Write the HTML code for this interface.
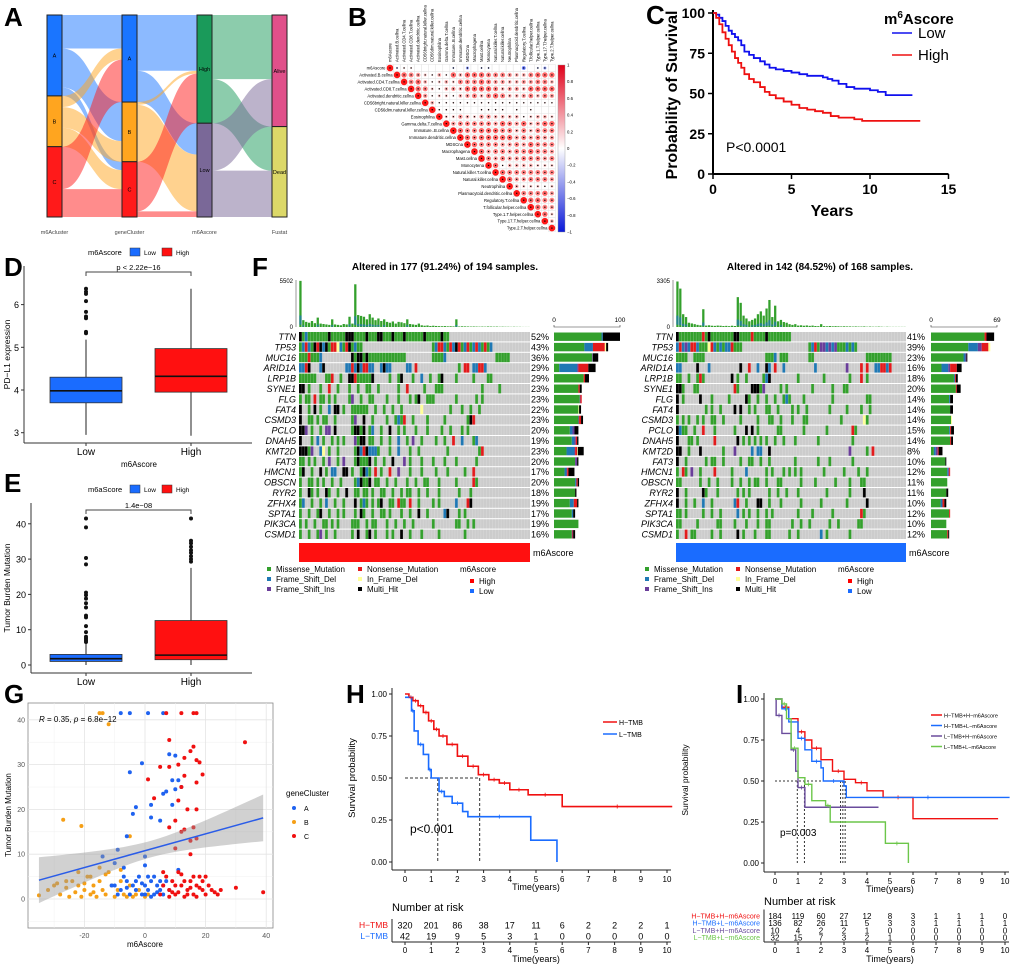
<!DOCTYPE html>
<html><head><meta charset="utf-8">
<style>
html,body{margin:0;padding:0;background:#fff;}
svg{display:block;font-family:"Liberation Sans",Arial,sans-serif;}
.pl{font-weight:bold;font-size:26px;}
</style></head>
<body>
<svg id="fig" width="1020" height="970" viewBox="0 0 1020 970" xmlns="http://www.w3.org/2000/svg">
<rect width="1020" height="970" fill="#fff"/>
<text class="pl" x="4" y="26">A</text>
<text class="pl" x="348" y="26">B</text>
<text class="pl" x="646" y="24">C</text>
<text class="pl" x="4" y="276">D</text>
<text class="pl" x="4" y="492">E</text>
<text class="pl" x="252" y="276">F</text>
<text class="pl" x="4" y="703">G</text>
<text class="pl" x="346" y="703">H</text>
<text class="pl" x="736" y="703">I</text>
<g id="gA"></g>
<g id="gB"></g>
<g id="gC"></g>
<g id="gD"></g>
<g id="gE"></g>
<g id="gF"></g>
<g id="gG"></g>
<g id="gH"></g>
<g id="gI"></g>
</svg>
<script>
// ================= DATA =================
const sankeyCols = ["m6Acluster","geneCluster","m6Ascore","Fustat"];
const sankeyNodes = [["A","B","C"],["A","B","C"],["High","Low"],["Alive","Dead"]];
const sankeyNodeColors = [["#1a75ff","#ffa51f","#ff1a1a"],["#1a75ff","#ffa51f","#ff1a1a"],["#1a9a5a","#7a6898"],["#e0508a","#dcd868"]];
const sankeyFlows1 = [[60,70,15],[20,37,34],[76,0,50]];
const sankeyFlows2 = [[100,56],[5,102],[89,10]];
const sankeyFlows3 = [[115,79],[85,83]];
const corrNames = ["m6Ascore","Activated.B.cellna","Activated.CD4.T.cellna","Activated.CD8.T.cellna","Activated.dendritic.cellna","CD56bright.natural.killer.cellna","CD56dim.natural.killer.cellna","Eosinophilna","Gamma.delta.T.cellna","Immature..B.cellna","Immature.dendritic.cellna","MDSCna","Macrophagena","Mast.cellna","Monocytena","Natural.killer.T.cellna","Natural.killer.cellna","Neutrophilna","Plasmacytoid.dendritic.cellna","Regulatory.T.cellna","T.follicular.helper.cellna","Type.1.T.helper.cellna","Type.17.T.helper.cellna","Type.2.T.helper.cellna"];
const corrRows = ["9a1100000a0b0aa0000c0ab0","96542131636665554335666521","9563123255565443344553571","965213436666534436666311","94122134535653345354321","93111111111111111111111","9111100111101010001111","922432443333123322111","94555554654634665311","9655666553535554111","965666664545443431","96555445465554311","9645545565543311","954544555453311","96133332222111","9655555553111","96445554311","93222121211","955564211","96655321","9654311","962311","9311","9"];
const corrTicks = ["1","0.8","0.6","0.4","0.2","0","−0.2","−0.4","−0.6","−0.8","−1"];
const cLowT = [0,0.2,0.4,0.6,0.8,1,1.2,1.4,1.6,1.8,2,2.3,2.6,3,3.3,3.6,4,4.5,5,5.5,6,6.5,7,7.3,7.6,8,8.5,9,9.5,10,10.5,11,11.5,12.7];
const cLowS = [100,99,97,95,92,89,87,85,83,80,76,74,72,70,68,66,65,64,63,62,61,61,60,59,58,56,54,53,53,52,51,49,49,49];
const cHighT = [0,0.2,0.4,0.6,0.8,1,1.2,1.4,1.6,1.8,2,2.3,2.6,3,3.3,3.6,4,4.5,5,5.5,6,6.5,7,7.5,8,9,9.5,13.2];
const cHighS = [100,97,93,88,84,80,76,72,69,66,62,59,57,54,51,49,47,45,43,41,40,39,38,36,35,34,33,33];
const cTicksX = [0,5,10,15];
const cTicksY = [0,25,50,75,100];
const dGroups = ["Low","High"];
const dStats = [[2.95,3.7,3.98,4.3,5.18],[2.93,3.95,4.32,4.97,6.37]];
const dOutLow = [5.33,5.36,5.68,5.72,5.83,6.08,6.25,6.3,6.37];
const dOutHigh = [];
const dTicks = [3,4,5,6];
const eStats = [[0,1,1.8,3,6],[0,1.5,2.8,12.6,27.5]];
const eOutLow = [6.5,7,7.5,8,9.3,11,13.5,14,16.3,17.5,18.8,19.8,20.5,28.5,30.3,39,41.5];
const eOutHigh = [29.3,30,30.8,31.8,32.5,33.5,34.5,35.2,41.5];
const eTicks = [0,10,20,30,40];
const genesL = ["TTN","TP53","MUC16","ARID1A","LRP1B","SYNE1","FLG","FAT4","CSMD3","PCLO","DNAH5","KMT2D","FAT3","HMCN1","OBSCN","RYR2","ZFHX4","SPTA1","PIK3CA","CSMD1"];
const genesR = ["TTN","TP53","MUC16","ARID1A","LRP1B","SYNE1","FLG","FAT4","CSMD3","PCLO","DNAH5","KMT2D","FAT3","HMCN1","OBSCN","RYR2","ZFHX4","SPTA1","PIK3CA","CSMD1"];
const pctL = [52,43,36,29,29,23,23,22,23,20,19,23,20,17,20,18,19,17,19,16];
const pctR = [41,39,23,16,18,20,14,14,14,15,14,8,10,12,11,11,10,12,10,12];
const matL = [
"kgbgggggggkgggggkkkggggkgggkkgggkgggkggggggkgggggkgg",
"gbrbgkrkbkgrrybgrkgbgg........................gbrrbgrbkrgbrgbrbgrgb",
"gggrgggb..........kgkkgkggggggggggggg.........ggggb.................ggggg",
"bbrk...bk.......bbrbkbrrbb..bkbb.....bb.r..............g.rr.bbrrb",
"gggggg...ggr..g..kkrgggggk.....g..gk...g..b..g..gk....g.....g....gg",
"kk.g...g..r..g...g..g..gg..g......g..r.....g...ggg.............g.....g",
"g.gg.r.gg.g.g....gp..g..gg....g...g...g.gk..ggg.......g......g.g",
"k..g.k.g..b.kk.g..gggggg..g..g..g..g......y.........g...g..g..g",
"k..gg.g.gg..g.....gp..k..g....g..gbgr..g....g.....g.......gkr..",
"kkp.g..g.pp.k.....gkkgk.gb..g..k..g.g...g...g....g..g...g.g",
"k...g.b.g..g.g.g...pgkk.gg..g..g..b..g.p..g....g..g..r..b...gb",
"kkkgp..by.g..g.....gkbrkbbbg...g..b...g..g.........g..........gr",
"gg.g.g..g.p..g.p...gkgggk.g..g..k...p.g...g...g...g...g......g",
"gk..g..k.g.bb..kk.g..gkbg.r.g..r..p...g...g....g...g.....g..r",
"g..gg.g.g..g..g....gbkggk.gg..g..g...g..g..gg...g.....g.....rg",
"g..kg.g..kg..g..k..gg.gg.g..gg..g..g.gg..g..g...g......g...g",
"gb..g..g.b..g..g...k.gbg.g.gk..gg.rgg.r..g....g.g.....b...rk",
"g..g..gk..g..g.g...g.kg..g..gg.g...g..g..k..g.....bk...g.g",
"g.g..g..gg.g.g....ggg..g.gg...g..g..g..g......g.......gg..g.g",
"g..g..gp.g..g.....g.k..gk.g...g.g..k..g...g.....g........g"];
const matR = [
"kggggggggrgkggggggggkkggggrggggkgggggggg",
"brbpbrrbgggyrbgbgbbrggg.......................gbrgppbpbpgggbgbg",
"gggg..gggg.....................gggb.ggg.......gg..................ggggggggg",
"bb.....k...b..........k..r..b..kb.r..b..........b..........p....r.r..bbrrbr",
"gg..g..grg.........k.g..g.....gbk.........g........g........g...r.g",
"kkg...gg............rg....kkkgp.....g.g........g......g...gg",
"k.g.....k...g.....g.....kg..g..g..g..gbg....g.........g...........gg",
"k.........g.g..g....k.k..g.g...gg..g....g.g..g.......g.....g....g..g",
"g.g.g..g.g..gg..g.....g.....g...gg..g...g...gg...........g.......yg",
"kbgg..g..r...g......g...k.k.g......gg.......g.......g........rg",
"k...gg.g.....r.......k.g.g.g.g.g..g..g...g.......g...........g",
"kk..g...k.......g...p.....b.bb..k...........................p.....g.r",
"k..g......g.gg..g.....g..gg..g..g........g.......g...g.......g",
"g.rg.p..g....r.....g....b......g.g...g.g.g.g.......g......g....g..g",
"gg......g..g..g....g..g..g.gg..g...gg......g....g......g....g...gg",
"k..g.....kg...g......g.g.g......g..g..g...g.........g.......g....k",
"k..g..g..b..g.......br..g...kk..g...g......g......g........g......k",
"gg.g.....g..g..g.....b.g.g..g..g.g........g....g......g.........rg",
"gg.....g......gg....g...g...g..gg.......g..g..g......g..g......gg",
"g..r.gg.....g..g.....k.g...g...gg......g..g.......b.g.......g"];
const tmbL = [5400,800,600,500,700,450,1100,400,350,300,250,900,300,250,200,350,300,1200,400,5000,1400,1300,1200,900,1500,1100,800,1000,700,900,600,500,650,400,600,550,450,900,350,300,250,400,200,150,180,120,150,120,100,90,110,80,90,70,900,60,80,70,60,50,60,50,40,50,40,60,50,40,50,30,40,30,30,20,30,20,20,10,10,10];
const tmbR = [3200,2700,900,700,300,250,200,150,120,1250,100,120,90,80,100,90,70,80,60,90,70,2100,1700,800,600,400,500,600,900,1100,800,1300,1900,700,1500,400,500,350,300,200,150,200,100,120,90,110,80,100,70,60,200,60,50,70,50,60,50,40,50,40,40,30,40,30,30,40,20,30,20,20,30,20,10,20,10,10,10,10,10,10];
const barsL = [[72,2,0,0,0,26],[46,13,0,18,2,3],[58,0,1,0,0,8],[8,27,2,15,0,11],[45,0,0,2,0,6],[37,0,0,2,0,3],[39,0,1,2,0,0],[37,0,0,0,1,3],[37,0,1,3,0,3],[24,4,3,0,0,6],[27,4,2,2,0,2],[19,12,1,3,1,9],[32,0,3,0,0,2],[16,3,1,2,0,9],[32,2,0,2,0,2],[32,0,0,0,0,2],[24,6,0,5,0,2],[27,2,0,0,0,3],[37,0,0,0,0,0],[27,0,1,1,0,3]];
const barsR = [[56,0,0,2,0,8],[39,10,4,7,2,0],[34,2,1,0,0,1],[11,7,2,7,0,5],[24,1,0,1,0,2],[26,0,0,1,0,4],[19,1,0,0,0,3],[20,0,0,0,0,3],[21,0,0,0,1,0],[19,1,0,1,0,3],[20,0,0,1,0,2],[3,2,2,1,0,4],[15,0,0,0,0,1],[17,1,1,1,0,0],[17,0,0,0,0,0],[16,0,0,0,0,2],[10,2,0,2,0,2],[19,0,0,1,0,0],[16,0,0,0,0,0],[17,0,0,1,0,1]];
const gAx = [-8,-5,1,6,-5,-1,8,10,11,12,9,10,7,6,2,-3,-4,2,5,9,-6,-9,-14,-10,-7,0,0,11,-10,-8,-6,-5,-4,-3,-2,-1,0,1,2,3,4,5,6,7,-7,-9,3,0,-3,5,8,2,-6,-1,4,1,-11,6];
const gAy = [41.5,41.5,41.5,41.5,28.3,30.3,32.3,32,26.5,25,26.5,24.5,24,23.5,21,20.5,19,18.2,17.5,21,14,11,9.5,8,7,9.5,7.5,6.5,3,2,4,1,3,2,5,1,3,2,4,1,3,2,1,4,5,1,5,1,4,4,2,0.5,2.5,3.5,1.5,5,3,3];
const gBx = [-15,-14,-12,-27,-21,-5,-35,-32,-30,-28,-26,-25,-24,-23,-22,-21,-20,-19,-18,-17,-16,-15,-14,-13,-12,-11,-10,-9,-8,-7,-6,-5,-4,-3,-2,0,1,-18,-22,-26,-15,-13,-8,-20,-29,-17];
const gBy = [41.5,41.5,39,17.7,16.3,14,0.8,2,3,1,2.5,0.5,4,1.5,3,0.5,2,5,1,3,0.5,4,2,1,6,3,0.5,2,4,1,0.5,3,0.5,1,2,0.5,1,5,6,4,7,5.5,6.5,3.5,3.5,1.5];
const gCx = [7,12,16,17,33,8,16,15,13,17,18,8,5,11,19,1,13,17,12,3,11,14,17,10,13,8,16,12,15,17,10,15,30,39,5,6,7,8,9,10,11,12,13,14,15,16,17,18,19,20,21,22,23,24,25,10,12,14,16,18,8,11,13,15,17,6,9,19,20];
const gCy = [41.5,41.5,41.5,41.5,35,35.5,34,33,31.5,31,30.5,29.5,29.5,30,27.8,26.7,27.5,26,25,22.5,22,20,20,17.5,15.5,16,16,15,13,13.5,11.3,10,2.5,1.5,1,3,5,2,4,1,6,3,0.5,2,4,1,3,5,2,1,3,2,1.5,1,2,3,5.5,1,5,2.5,0.5,1.5,4,2.5,0.5,6,1.5,4,5];
const gTicksX = [-20,0,20,40];
const gTicksY = [0,10,20,30,40];
const hHT = [0,0.15,0.3,0.5,0.7,0.9,1.1,1.3,1.6,2,2.4,2.8,3.2,3.6,4,4.7,6,10.2];
const hHS = [1,0.98,0.96,0.93,0.89,0.84,0.79,0.75,0.70,0.63,0.57,0.52,0.49,0.47,0.43,0.40,0.33,0.33];
const hLT = [0,0.25,0.35,0.5,0.7,0.9,1,1.3,1.5,1.8,2.2,2.4,4.8,5.8];
const hLS = [0.98,0.90,0.78,0.70,0.64,0.55,0.50,0.42,0.39,0.35,0.30,0.27,0.13,0];
const hRiskH = [320,201,86,38,17,11,6,2,2,2,1];
const hRiskL = [42,19,9,5,3,1,0,0,0,0,0];
const kmTicksX = [0,1,2,3,4,5,6,7,8,9,10];
const kmTicksY = [0,0.25,0.5,0.75,1];
const iHHT = [0,0.3,0.6,1,1.3,1.6,2,2.5,3,3.5,4,4.7,6,9.7];
const iHHS = [1,0.95,0.88,0.80,0.75,0.70,0.63,0.56,0.51,0.49,0.44,0.40,0.27,0.27];
const iHLT = [0,0.3,0.6,1,1.3,1.6,2,2.1,3,3.1,10.2];
const iHLS = [1,0.94,0.86,0.76,0.69,0.62,0.58,0.50,0.47,0.40,0.40];
const iLHT = [0,0.05,0.3,0.7,0.9,1,1.3,4.5];
const iLHS = [1,0.9,0.79,0.69,0.56,0.46,0.34,0.34];
const iLLT = [0,0.3,0.5,0.7,1,1.3,1.6,2.2,2.4,4.8,5.8];
const iLLS = [1,0.97,0.88,0.70,0.52,0.48,0.38,0.35,0.25,0.12,0];
const iRiskHH = [184,119,60,27,12,8,3,1,1,1,0];
const iRiskHL = [136,82,26,11,5,3,3,1,1,1,1];
const iRiskLH = [10,4,2,2,1,0,0,0,0,0,0];
const iRiskLL = [32,15,7,3,2,1,0,0,0,0,0];

// ================= HELPERS =================
const NS = "http://www.w3.org/2000/svg";
function mk(tag, attrs, name, parent) {
  const el = document.createElementNS(NS, tag);
  for (const k in attrs) el.setAttribute(k, attrs[k]);
  
  
  parent.appendChild(el);
  return el;
}
function tx(str, x, y, size, name, parent, extra) {
  const a = {x: x, y: y, 'font-size': size};
  if (extra) for (const k in extra) a[k] = extra[k];
  const t = mk('text', a, name, parent);
  t.textContent = str;
  return t;
}
function stepPath(T, S, sx, sy) {
  let d = "M" + sx(T[0]) + "," + sy(S[0]);
  for (let i = 1; i < T.length; i++) d += "H" + sx(T[i]) + "V" + sy(S[i]);
  return d;
}
const MCOL = {g:"#33a02c", b:"#1f78b4", p:"#6a3d9a", r:"#e31a1c", y:"#ffff99", k:"#000000"};
const SEGCOL = ["#33a02c","#1f78b4","#6a3d9a","#e31a1c","#ffff99","#000000"];

// ================= A: SANKEY =================
(function(){
  const g = document.getElementById('gA');
  const colX = [47,122,197,272], bw = 15, top = 15, bot = 217;
  const total = 362, k = (bot - top) / total;
  const nodeY = [];
  const sizes = [[145,91,126],[156,107,99],[194,168],[200,162]];
  sizes.forEach((arr, c) => { let y = top; nodeY[c] = arr.map(v => { const r = [y, y + v * k]; y += v * k; return r; }); });
  function flows(F, c, colorsFrom) {
    const nS = F.length, nT = F[0].length;
    const outOff = nodeY[c].map(r => r[0]);
    const inOff = nodeY[c + 1].map(r => r[0]);
    for (let s = 0; s < nS; s++) for (let t = 0; t < nT; t++) {
      const v = F[s][t]; if (!v) continue;
      const h = v * k, x0 = colX[c] + bw, x1 = colX[c + 1], xm = (x0 + x1) / 2;
      const y0 = outOff[s], y1 = inOff[t];
      outOff[s] += h; inOff[t] += h;
      const d = `M${x0},${y0}C${xm},${y0} ${xm},${y1} ${x1},${y1}V${y1 + h}C${xm},${y1 + h} ${xm},${y0 + h} ${x0},${y0 + h}Z`;
      mk('path', {d: d, fill: colorsFrom[s], 'fill-opacity': 0.5}, 'sankey-flow', g);
    }
  }
  flows(sankeyFlows1, 0, sankeyNodeColors[0]);
  flows(sankeyFlows2, 1, sankeyNodeColors[1]);
  flows(sankeyFlows3, 2, sankeyNodeColors[2]);
  nodeY.forEach((arr, c) => arr.forEach((r, i) => {
    mk('rect', {x: colX[c], y: r[0], width: bw, height: r[1] - r[0], fill: sankeyNodeColors[c][i], stroke: "#222", 'stroke-width': 1}, 'sankey-node', g);
    tx(sankeyNodes[c][i], colX[c] + bw / 2, (r[0] + r[1]) / 2 + 2, 5.5, 'sankey-node-label', g, {'text-anchor': 'middle'});
  }));
  sankeyCols.forEach((n, c) => tx(n, colX[c] + bw / 2, 234, 5.5, 'sankey-axis-label', g, {'text-anchor': 'middle', fill: '#444'}));
})();

// ================= B: CORRPLOT =================
(function(){
  const g = document.getElementById('gB');
  const n = corrNames.length, x0 = 390, y0 = 68, dx = 7.04, dy = 6.96;
  function lev(ch){ if (ch >= '0' && ch <= '9') return +ch; return -(ch.charCodeAt(0) - 96); }
  for (let i = 0; i < n; i++) {
    tx(corrNames[i], x0 + i * dx - 4.5, y0 + i * dy + 1.6, 4.2, 'corr-row-label', g, {'text-anchor': 'end'});
    tx(corrNames[i], 0, 0, 4.2, 'corr-col-label', g, {transform: `translate(${x0 + i * dx + 1.5},62) rotate(-90)`});
    const row = corrRows[i];
    for (let j = i; j < n; j++) {
      const cx = x0 + j * dx, cy = y0 + i * dy;
      mk('rect', {x: cx - dx / 2, y: cy - dy / 2, width: dx, height: dy, fill: '#fff', stroke: '#e3e3e3', 'stroke-width': 0.5}, 'corr-cell', g);
      const ch = row[j - i] || '1';
      const L = lev(ch), a = Math.abs(L) / 9;
      if (L === 0) continue;
      const col = L > 0 ? `rgb(${255},${Math.round(255 - 230 * a)},${Math.round(255 - 230 * a)})` : `rgb(${Math.round(255 - 230 * a * 2)},${Math.round(255 - 200 * a * 2)},255)`;
      mk('circle', {cx: cx, cy: cy, r: Math.max(0.6, 3.3 * Math.sqrt(a)), fill: col}, 'corr-circle', g);
      mk('circle', {cx: cx, cy: cy, r: 0.7, fill: '#000'}, 'corr-sig-mark', g);
    }
  }
  const defs = mk('defs', {}, 'defs', g);
  const lg = mk('linearGradient', {id: 'cbar', x1: 0, y1: 0, x2: 0, y2: 1}, 'colorbar-gradient', defs);
  mk('stop', {offset: '0', 'stop-color': '#e0001a'}, 'stop', lg);
  mk('stop', {offset: '0.5', 'stop-color': '#ffffff'}, 'stop', lg);
  mk('stop', {offset: '1', 'stop-color': '#0a18d8'}, 'stop', lg);
  mk('rect', {x: 558, y: 65, width: 7, height: 167, fill: 'url(#cbar)', stroke: '#999', 'stroke-width': 0.4}, 'colorbar', g);
  corrTicks.forEach((t, i) => tx(t, 567, 65 + i * 16.7 + 1.5, 4.3, 'colorbar-tick', g));
})();

// ================= C: KM =================
(function(){
  const g = document.getElementById('gC');
  const sx = t => 713 + t * 15.7, sy = v => 174 - v * 1.61;
  mk('line', {x1: 713, y1: 10, x2: 713, y2: 174, stroke: '#000', 'stroke-width': 2}, 'y-axis', g);
  mk('line', {x1: 713, y1: 174, x2: sx(15), y2: 174, stroke: '#000', 'stroke-width': 2}, 'x-axis', g);
  cTicksY.forEach(v => { mk('line', {x1: 708, y1: sy(v), x2: 713, y2: sy(v), stroke: '#000', 'stroke-width': 1.5}, 'y-tick', g);
    tx(String(v), 705, sy(v) + 5, 14, 'y-tick-label', g, {'text-anchor': 'end', 'font-weight': 'bold'}); });
  cTicksX.forEach(v => { mk('line', {x1: sx(v), y1: 174, x2: sx(v), y2: 179, stroke: '#000', 'stroke-width': 1.5}, 'x-tick', g);
    tx(String(v), sx(v), 194, 14, 'x-tick-label', g, {'text-anchor': 'middle', 'font-weight': 'bold'}); });
  mk('path', {d: stepPath(cLowT, cLowS, sx, sy), fill: 'none', stroke: '#1010ee', 'stroke-width': 1.8}, 'survival-line-low', g);
  mk('path', {d: stepPath(cHighT, cHighS, sx, sy), fill: 'none', stroke: '#ee1010', 'stroke-width': 1.8}, 'survival-line-high', g);
  tx('Years', 832, 216, 16, 'x-axis-title', g, {'text-anchor': 'middle', 'font-weight': 'bold'});
  tx('Probability of Survival', 0, 0, 16, 'y-axis-title', g, {'text-anchor': 'middle', 'font-weight': 'bold', transform: 'translate(677,95) rotate(-90)'});
  const t = tx('', 884, 24, 15, 'legend-title', g, {'font-weight': 'bold'});
  t.innerHTML = 'm<tspan dy="-6" font-size="10">6</tspan><tspan dy="6">Ascore</tspan>';
  mk('line', {x1: 892, y1: 33, x2: 912, y2: 33, stroke: '#1010ee', 'stroke-width': 1.5}, 'legend-line-low', g);
  tx('Low', 918, 38, 15, 'legend-label-low', g);
  mk('line', {x1: 892, y1: 55, x2: 912, y2: 55, stroke: '#ee1010', 'stroke-width': 1.5}, 'legend-line-high', g);
  tx('High', 918, 60, 15, 'legend-label-high', g);
  tx('P<0.0001', 726, 152, 14, 'p-value', g);
})();

// ================= D / E: BOXPLOTS =================
function boxplot(gid, stats, outs, ticks, sy, ax, ay, xlab, ylab, legendTitle, bracketY, ptxt, topY, bottomLabels) {
  const g = document.getElementById(gid);
  const cx = [86, 191], hw = 36, cols = ["#1a6cff", "#ff1010"];
  mk('line', {x1: ax, y1: topY, x2: ax, y2: ay, stroke: '#333', 'stroke-width': 1}, 'y-axis', g);
  mk('line', {x1: ax, y1: ay, x2: 252, y2: ay, stroke: '#333', 'stroke-width': 1}, 'x-axis', g);
  ticks.forEach(v => { mk('line', {x1: ax - 3, y1: sy(v), x2: ax, y2: sy(v), stroke: '#333'}, 'y-tick', g);
    tx(String(v), ax - 5, sy(v) + 3.5, 9, 'y-tick-label', g, {'text-anchor': 'end'}); });
  stats.forEach((s, i) => {
    mk('line', {x1: cx[i], y1: sy(s[0]), x2: cx[i], y2: sy(s[4]), stroke: '#222', 'stroke-width': 1}, 'whisker', g);
    mk('rect', {x: cx[i] - hw, y: sy(s[3]), width: hw * 2, height: sy(s[1]) - sy(s[3]), fill: cols[i], stroke: '#333', 'stroke-width': 0.8}, 'box-' + dGroups[i].toLowerCase(), g);
    mk('line', {x1: cx[i] - hw, y1: sy(s[2]), x2: cx[i] + hw, y2: sy(s[2]), stroke: '#111', 'stroke-width': 1.6}, 'median-line', g);
    outs[i].forEach(v => mk('circle', {cx: cx[i], cy: sy(v), r: 2, fill: '#111'}, 'outlier-point', g));
    mk('line', {x1: cx[i], y1: ay, x2: cx[i], y2: ay + 3, stroke: '#333'}, 'x-tick', g);
    if (bottomLabels) tx(dGroups[i], cx[i], ay + 12, 10, 'x-tick-label', g, {'text-anchor': 'middle'});
  });
  mk('path', {d: `M${cx[0]},${bracketY + 4}V${bracketY}H${cx[1]}V${bracketY + 4}`, fill: 'none', stroke: '#444'}, 'significance-bracket', g);
  tx(ptxt, (cx[0] + cx[1]) / 2, bracketY - 2, 7.5, 'p-value', g, {'text-anchor': 'middle'});
  if (xlab) tx(xlab, 139, ay + 24, 8, 'x-axis-title', g, {'text-anchor': 'middle'});
  tx(ylab, 0, 0, 8.5, 'y-axis-title', g, {'text-anchor': 'middle', transform: `translate(10,${(topY + ay) / 2}) rotate(-90)`});
  const ly = topY - 14;
  tx(legendTitle, 88, ly + 3, 7.5, 'legend-title', g);
  mk('rect', {x: 130, y: ly - 4, width: 10, height: 8, fill: cols[0], stroke: '#333', 'stroke-width': 0.5}, 'legend-key-low', g);
  tx('Low', 144, ly + 3, 6.5, 'legend-label-low', g);
  mk('rect', {x: 162, y: ly - 4, width: 10, height: 8, fill: cols[1], stroke: '#333', 'stroke-width': 0.5}, 'legend-key-high', g);
  tx('High', 176, ly + 3, 6.5, 'legend-label-high', g);
}
boxplot('gD', dStats, [dOutLow, dOutHigh], dTicks, v => 390 - (v - 4) * 42.7, 24, 443, 'm6Ascore', 'PD−L1 expression', 'm6Ascore', 272, 'p < 2.22e−16', 266, true);
boxplot('gE', eStats, [eOutLow, eOutHigh], eTicks, v => 665 - v * 3.53, 31, 673, '', 'Tumor Burden Mutation', 'm6aScore', 510, '1.4e−08', 503, true);

// ================= F: ONCOPLOTS =================
function oncoplot(g, genes, pct, mat, tmb, bars, maxTmb, maxBar, mx0, mx1, barX0, title, titleX, annCol, lgX) {
  const ncol = 80, cw = (mx1 - mx0) / ncol, rowTop = 332, rh = 10.4, ch = 9.4;
  tx(title, titleX, 270, 10, 'oncoplot-title', g, {'text-anchor': 'middle', 'font-weight': 'bold'});
  const tb0 = 327, tbH = 47;
  mk('line', {x1: mx0 - 3, y1: tb0 - tbH, x2: mx0 - 3, y2: tb0, stroke: '#555', 'stroke-width': 0.6}, 'tmb-axis', g);
  tx(String(maxTmb), mx0 - 6, tb0 - tbH + 3, 6, 'tmb-axis-max', g, {'text-anchor': 'end'});
  tx('0', mx0 - 6, tb0 + 2, 6, 'tmb-axis-min', g, {'text-anchor': 'end'});
  tmb.forEach((v, i) => {
    const h = v / maxTmb * tbH;
    mk('rect', {x: mx0 + i * cw + 0.3, y: tb0 - h, width: cw - 0.6, height: h, fill: '#33a02c'}, 'tmb-bar', g);
    if (h > 6) mk('rect', {x: mx0 + i * cw + 0.3, y: tb0 - h * 0.25, width: cw - 0.6, height: h * 0.2, fill: '#1f78b4', 'fill-opacity': 0.7}, 'tmb-bar-segment', g);
  });
  genes.forEach((gn, r) => {
    const y = rowTop + r * rh;
    tx(gn, mx0 - 3, y + 8, 9, 'gene-label', g, {'text-anchor': 'end', 'font-style': 'italic'});
    tx(pct[r] + '%', mx1 + 1, y + 8, 9, 'gene-percent', g);
    mk('rect', {x: mx0, y: y, width: mx1 - mx0, height: ch, fill: '#cccccc'}, 'oncoplot-row-bg', g);
    const s = mat[r];
    for (let c = 0; c < ncol; c++) {
      const m = s[c];
      if (m && m !== '.') mk('rect', {x: mx0 + c * cw, y: y, width: cw + 0.05, height: ch, fill: MCOL[m]}, 'mutation-cell', g);
    }
    let x = barX0;
    bars[r].forEach((v, si) => { if (!v) return; const w = v / maxBar * 66;
      mk('rect', {x: x, y: y + 0.5, width: w, height: ch - 1, fill: SEGCOL[si]}, 'gene-freq-bar', g); x += w; });
  });
  for (let c = 1; c < ncol; c++) mk('line', {x1: mx0 + c * cw, y1: rowTop, x2: mx0 + c * cw, y2: rowTop + 20 * rh, stroke: '#ffffff', 'stroke-width': 0.15}, 'col-sep', g);
  mk('path', {d: `M${barX0},325V327H${barX0 + 66}V325`, fill: 'none', stroke: '#333', 'stroke-width': 0.6}, 'freq-axis', g);
  tx('0', barX0, 322, 6.5, 'freq-axis-min', g, {'text-anchor': 'middle'});
  tx(String(maxBar), barX0 + 66, 322, 6.5, 'freq-axis-max', g, {'text-anchor': 'middle'});
  mk('rect', {x: mx0, y: 543, width: mx1 - mx0, height: 19, fill: annCol}, 'm6ascore-annotation-bar', g);
  tx('m6Ascore', mx1 + 3, 556, 9, 'annotation-label', g);
  const items = [['Missense_Mutation', 'g', 0, 0], ['Frame_Shift_Del', 'b', 0, 1], ['Frame_Shift_Ins', 'p', 0, 2], ['Nonsense_Mutation', 'r', 1, 0], ['In_Frame_Del', 'y', 1, 1], ['Multi_Hit', 'k', 1, 2]];
  items.forEach(it => { const lx = lgX + it[2] * 91, ly = 572 + it[3] * 10;
    mk('rect', {x: lx, y: ly - 5, width: 4, height: 4, fill: MCOL[it[1]]}, 'legend-key', g);
    tx(it[0], lx + 9, ly, 8, 'legend-label', g); });
  tx('m6Ascore', lgX + 193, 572, 8, 'legend-title', g);
  mk('rect', {x: lgX + 203, y: 579, width: 4, height: 4, fill: '#ff0000'}, 'legend-key-high', g);
  tx('High', lgX + 212, 584, 8, 'legend-label-high', g);
  mk('rect', {x: lgX + 203, y: 589, width: 4, height: 4, fill: '#1a6cff'}, 'legend-key-low', g);
  tx('Low', lgX + 212, 594, 8, 'legend-label-low', g);
}
(function(){
  const g = document.getElementById('gF');
  const gl = mk('g', {}, 'oncoplot-high', g);
  oncoplot(gl, genesL, pctL, matL, tmbL, barsL, 5502, 100, 299, 530, 554, 'Altered in 177 (91.24%) of 194 samples.', 445, '#ff1010', 267);
  const gr = mk('g', {}, 'oncoplot-low', g);
  oncoplot(gr, genesR, pctR, matR, tmbR, barsR, 3305, 69, 676, 906, 931, 'Altered in 142 (84.52%) of 168 samples.', 820, '#1a6cff', 645);
})();

// ================= G: SCATTER =================
(function(){
  const g = document.getElementById('gG');
  const sx = v => 145 + v * 3.03, sy = v => 899 - v * 4.48;
  mk('rect', {x: 28, y: 703, width: 245, height: 225, fill: '#fff', stroke: '#888', 'stroke-width': 0.8}, 'plot-area', g);
  [-30,-10,10,30].forEach(v => mk('line', {x1: sx(v), y1: 703, x2: sx(v), y2: 928, stroke: '#f0f0f0', 'stroke-width': 0.5}, 'minor-grid-x', g));
  [-5,5,15,25,35].forEach(v => mk('line', {x1: 28, y1: sy(v), x2: 273, y2: sy(v), stroke: '#f0f0f0', 'stroke-width': 0.5}, 'minor-grid-y', g));
  gTicksX.forEach(v => { mk('line', {x1: sx(v), y1: 703, x2: sx(v), y2: 928, stroke: '#e4e4e4', 'stroke-width': 0.8}, 'grid-x', g);
    tx(String(v), sx(v), 938, 7, 'x-tick-label', g, {'text-anchor': 'middle', fill: '#555'}); });
  gTicksY.forEach(v => { mk('line', {x1: 28, y1: sy(v), x2: 273, y2: sy(v), stroke: '#e4e4e4', 'stroke-width': 0.8}, 'grid-y', g);
    tx(String(v), 25, sy(v) + 2.5, 7, 'y-tick-label', g, {'text-anchor': 'end', fill: '#555'}); });
  const X = gAx.concat(gBx, gCx), Y = gAy.concat(gBy, gCy), n = X.length;
  const mxv = X.reduce((a, b) => a + b) / n, myv = Y.reduce((a, b) => a + b) / n;
  let sxx = 0, sxy = 0; for (let i = 0; i < n; i++) { sxx += (X[i] - mxv) ** 2; sxy += (X[i] - mxv) * (Y[i] - myv); }
  const b1 = sxy / sxx, b0 = myv - b1 * mxv;
  let sse = 0; for (let i = 0; i < n; i++) sse += (Y[i] - b0 - b1 * X[i]) ** 2;
  const sig = Math.sqrt(sse / (n - 2));
  const xs = []; for (let v = -35; v <= 39; v += 2) xs.push(v);
  const se = v => 1.96 * sig * Math.sqrt(1 / n + (v - mxv) ** 2 / sxx);
  let d = xs.map((v, i) => (i ? 'L' : 'M') + sx(v) + ',' + sy(b0 + b1 * v + se(v))).join('');
  d += xs.slice().reverse().map(v => 'L' + sx(v) + ',' + sy(b0 + b1 * v - se(v))).join('') + 'Z';
  function pts(PX, PY, col, nm) { PX.forEach((v, i) => mk('circle', {cx: sx(v), cy: sy(PY[i]), r: 2, fill: col}, nm, g)); }
  pts(gBx, gBy, '#f59f16', 'point-cluster-b');
  pts(gAx, gAy, '#1f62f0', 'point-cluster-a');
  pts(gCx, gCy, '#f01010', 'point-cluster-c');
  mk('path', {d: d, fill: '#999', 'fill-opacity': 0.45}, 'confidence-band', g);
  mk('line', {x1: sx(-35), y1: sy(b0 + b1 * -35), x2: sx(39), y2: sy(b0 + b1 * 39), stroke: '#2a5ce8', 'stroke-width': 1.5}, 'regression-line', g);
  const rt = tx('', 39, 722, 8, 'correlation-label', g);
  rt.innerHTML = '<tspan font-style="italic">R</tspan> = 0.35, <tspan font-style="italic">p</tspan> = 6.8e−12';
  tx('m6Ascore', 145, 947, 8, 'x-axis-title', g, {'text-anchor': 'middle'});
  tx('Tumor Burden Mutation', 0, 0, 8, 'y-axis-title', g, {'text-anchor': 'middle', transform: 'translate(11,815) rotate(-90)'});
  tx('geneCluster', 286, 796, 8, 'legend-title', g);
  [['A', '#1f62f0'], ['B', '#f59f16'], ['C', '#f01010']].forEach((e, i) => {
    mk('circle', {cx: 294, cy: 808 + i * 14, r: 2, fill: e[1]}, 'legend-key', g);
    tx(e[0], 304, 811 + i * 14, 7, 'legend-label', g); });
})();

// ================= H & I =================
function kmAxes(g, ax, x0, x10, y1, y0, axisY) {
  const sx = t => x0 + t * (x10 - x0) / 10, sy = v => y0 - v * (y0 - y1);
  mk('line', {x1: ax, y1: y1 - 6, x2: ax, y2: axisY, stroke: '#222', 'stroke-width': 1}, 'y-axis', g);
  mk('line', {x1: ax, y1: axisY, x2: x10 + 4, y2: axisY, stroke: '#222', 'stroke-width': 1}, 'x-axis', g);
  kmTicksY.forEach(v => { mk('line', {x1: ax - 3, y1: sy(v), x2: ax, y2: sy(v), stroke: '#222'}, 'y-tick', g);
    tx(v.toFixed(2), ax - 5, sy(v) + 3, 8, 'y-tick-label', g, {'text-anchor': 'end'}); });
  kmTicksX.forEach(v => { mk('line', {x1: sx(v), y1: axisY, x2: sx(v), y2: axisY + 3, stroke: '#222'}, 'x-tick', g);
    tx(String(v), sx(v), axisY + 12, 8, 'x-tick-label', g, {'text-anchor': 'middle'}); });
  tx('Time(years)', (x0 + x10) / 2, axisY + 20, 9, 'x-axis-title', g, {'text-anchor': 'middle'});
  return [sx, sy];
}
function censor(g, T, S, sx, sy, col, every) {
  for (let i = 1; i < T.length - 1; i += every) {
    const x = sx((T[i] + T[i + 1]) / 2), y = sy(S[i]);
    mk('path', {d: `M${x - 2},${y}H${x + 2}M${x},${y - 2}V${y + 2}`, stroke: col, 'stroke-width': 0.8}, 'censor-mark', g);
  }
}
function riskTable(g, ax, sx, rows, labels, cols, y0, dy, axisY, titleY) {
  tx('Number at risk', ax, titleY, 11, 'risk-table-title', g);
  rows.forEach((r, i) => {
    tx(labels[i], ax - 4, y0 + i * dy + 3, rows.length > 2 ? 7 : 8.5, 'risk-row-label', g, {'text-anchor': 'end', fill: cols[i]});
    r.forEach((v, j) => tx(String(v), sx(j), y0 + i * dy + 3.5, rows.length > 2 ? 8 : 9, 'risk-count', g, {'text-anchor': 'middle'}));
  });
  mk('line', {x1: ax, y1: y0 - 6, x2: ax, y2: axisY, stroke: '#222'}, 'risk-y-axis', g);
  mk('line', {x1: ax, y1: axisY, x2: sx(10) + 4, y2: axisY, stroke: '#222'}, 'risk-x-axis', g);
  kmTicksX.forEach(v => { mk('line', {x1: sx(v), y1: axisY, x2: sx(v), y2: axisY + 3, stroke: '#222'}, 'risk-x-tick', g);
    tx(String(v), sx(v), axisY + 11, 8, 'risk-x-tick-label', g, {'text-anchor': 'middle'}); });
  tx('Time(years)', (sx(0) + sx(10)) / 2, axisY + 20, 9, 'risk-x-axis-title', g, {'text-anchor': 'middle'});
}
(function(){
  const g = document.getElementById('gH');
  const [sx, sy] = kmAxes(g, 392, 405, 667, 694, 862, 870);
  tx('Survival probability', 0, 0, 9.5, 'y-axis-title', g, {'text-anchor': 'middle', transform: 'translate(355,778) rotate(-90)'});
  mk('path', {d: `M${sx(0)},${sy(0.5)}H${sx(2.85)}M${sx(1.25)},${sy(0.5)}V${sy(0)}M${sx(2.85)},${sy(0.5)}V${sy(0)}`, stroke: '#333', 'stroke-dasharray': '3,2', fill: 'none'}, 'median-lines', g);
  mk('path', {d: stepPath(hHT, hHS, sx, sy), fill: 'none', stroke: '#f01010', 'stroke-width': 1.6}, 'survival-line-h-tmb', g);
  mk('path', {d: stepPath(hLT, hLS, sx, sy), fill: 'none', stroke: '#1a6cff', 'stroke-width': 1.6}, 'survival-line-l-tmb', g);
  censor(g, hHT, hHS, sx, sy, '#f01010', 1);
  censor(g, hLT, hLS, sx, sy, '#1a6cff', 2);
  tx('p<0.001', 410, 833, 12, 'p-value', g);
  mk('line', {x1: 603, y1: 722, x2: 617, y2: 722, stroke: '#f01010', 'stroke-width': 1.5}, 'legend-line-h-tmb', g);
  tx('H−TMB', 619, 725, 7, 'legend-label-h-tmb', g);
  mk('line', {x1: 603, y1: 734, x2: 617, y2: 734, stroke: '#1a6cff', 'stroke-width': 1.5}, 'legend-line-l-tmb', g);
  tx('L−TMB', 619, 737, 7, 'legend-label-l-tmb', g);
  riskTable(g, 392, sx, [hRiskH, hRiskL], ['H−TMB', 'L−TMB'], ['#f01010', '#1a6cff'], 925, 11, 942, 911);
})();
(function(){
  const g = document.getElementById('gI');
  const [sx, sy] = kmAxes(g, 764, 775, 1005, 699, 863, 872);
  tx('Survival probability', 0, 0, 8.5, 'y-axis-title', g, {'text-anchor': 'middle', transform: 'translate(688,780) rotate(-90)'});
  mk('path', {d: `M${sx(0)},${sy(0.5)}H${sx(3)}M${sx(0.97)},${sy(0.5)}V${sy(0)}M${sx(1.28)},${sy(0.5)}V${sy(0)}M${sx(2.85)},${sy(0.5)}V${sy(0)}M${sx(2.95)},${sy(0.5)}V${sy(0)}M${sx(3.05)},${sy(0.5)}V${sy(0)}`, stroke: '#333', 'stroke-dasharray': '2,2', fill: 'none'}, 'median-lines', g);
  const series = [[iHHT, iHHS, '#f01010', 'survival-line-hh'], [iHLT, iHLS, '#1a6cff', 'survival-line-hl'], [iLHT, iLHS, '#6a4c9c', 'survival-line-lh'], [iLLT, iLLS, '#6cc64a', 'survival-line-ll']];
  series.forEach(s => { mk('path', {d: stepPath(s[0], s[1], sx, sy), fill: 'none', stroke: s[2], 'stroke-width': 1.4}, s[3], g); censor(g, s[0], s[1], sx, sy, s[2], 2); });
  tx('p=0.003', 780, 836, 10, 'p-value', g);
  const lab = ['H−TMB+H−m6Ascore', 'H−TMB+L−m6Ascore', 'L−TMB+H−m6Ascore', 'L−TMB+L−m6Ascore'];
  lab.forEach((l, i) => { mk('line', {x1: 931, y1: 715 + i * 10.5, x2: 942, y2: 715 + i * 10.5, stroke: series[i][2], 'stroke-width': 1.5}, 'legend-line', g);
    tx(l, 944, 717.5 + i * 10.5, 5.5, 'legend-label', g); });
  riskTable(g, 764, sx, [iRiskHH, iRiskHL, iRiskLH, iRiskLL], lab, ['#f01010', '#1a6cff', '#6a4c9c', '#6cc64a'], 915.5, 7.2, 942, 905);
})();
</script>
</body></html>
